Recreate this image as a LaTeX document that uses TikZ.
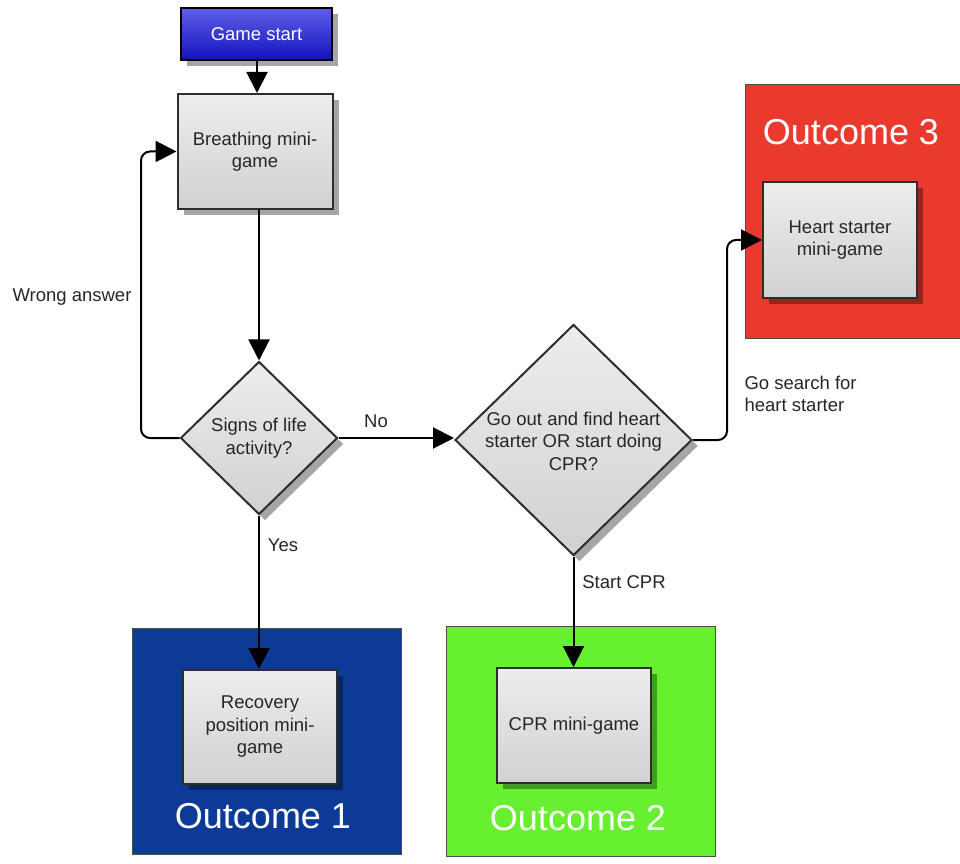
\documentclass[tikz,border=0pt]{standalone}
\usepackage{fontspec}
\setmainfont{Liberation Sans}
\usetikzlibrary{shapes.geometric,arrows.meta,shadows}
\definecolor{outA}{RGB}{12,58,150}
\definecolor{outB}{RGB}{102,240,48}
\definecolor{outC}{RGB}{234,58,46}
\definecolor{boxline}{RGB}{45,45,45}
\tikzset{
  lbl/.style={font=\fontsize{18.5}{22.5}\selectfont, text=black!85, align=center},
  outbox/.style={draw=black!70, line width=0.8pt},
  outtitle/.style={font=\fontsize{36}{40}\selectfont, text=white},
  gamebox/.style={draw=boxline, line width=2pt, top color=black!7, bottom color=black!18,
     drop shadow={shadow xshift=6pt, shadow yshift=-6pt, opacity=0.35, fill=black},
     inner sep=0pt, align=center, font=\fontsize{18.5}{22.5}\selectfont, text=black!85},
  startbox/.style={draw=black, line width=2pt, top color={rgb,255:red,95;green,95;blue,232},
     bottom color={rgb,255:red,18;green,18;blue,190},
     drop shadow={shadow xshift=6pt, shadow yshift=-6pt, opacity=0.35, fill=black},
     inner sep=0pt, font=\fontsize{18.5}{22.5}\selectfont, text=white},
  decision/.style={diamond, draw=boxline, line width=2pt, top color=black!7, bottom color=black!18,
     drop shadow={shadow xshift=6pt, shadow yshift=-6pt, opacity=0.35, fill=black}, inner sep=0pt},
  conn/.style={line width=2pt, -{Triangle[length=21pt,width=21pt]}, rounded corners=9pt}
}
\begin{document}
\begin{tikzpicture}[x=1pt,y=1pt]
\useasboundingbox (0,0) rectangle (960,863);
\fill[white] (0,0) rectangle (960,863);
% outcome areas
\node[outbox, fill=outC, minimum width=215pt, minimum height=254pt] (out3) at (852.5,652) {};
\node[outbox, fill=outB, minimum width=269pt, minimum height=230pt] (out2) at (580.5,122) {};
\node[outbox, fill=outA, minimum width=269pt, minimum height=226pt] (out1) at (266.5,122) {};
\node[outtitle] (t3) at (851,731) {Outcome 3};
\node[outtitle] (t2) at (578,45) {Outcome 2};
\node[outtitle] (t1) at (263,47) {Outcome 1};
% boxes
\node[startbox, minimum width=151pt, minimum height=52pt] (start) at (256.5,829) {Game start};
\node[gamebox, minimum width=155pt, minimum height=115pt] (breath) at (255,711.5) {Breathing mini-\\game};
\node[gamebox, minimum width=154pt, minimum height=116pt] (heart) at (840,623) {Heart starter\\mini-game};
\node[gamebox, minimum width=154pt, minimum height=115pt] (cpr) at (574,137.5) {CPR mini-game};
\node[gamebox, minimum width=154pt, minimum height=114pt] (rec) at (260,136) {Recovery\\position mini-\\game};
% decisions
\node[decision, minimum width=157pt, minimum height=153pt] (d1) at (259,425) {};
\node[lbl] (d1t) at (259,425) {Signs of life\\activity?};
\node[decision, minimum width=237pt, minimum height=231pt] (d2) at (573.5,423) {};
\node[lbl] (d2t) at (573.5,422) {Go out and find heart\\starter OR start doing\\CPR?};
% helper coordinates
\coordinate (loopx) at (141,0);
\coordinate (hx) at (727,0);
% connectors
\draw[conn] (start.south -| 257,0) -- (breath.north -| 257,0);
\draw[conn] (breath.south -| d1.north) -- (d1.north);
\draw[conn] (d1.west) -- (d1.west -| loopx) -- (breath.west -| loopx) -- (breath.west);
\draw[conn] (d1.east) -- (d1.east -| d2.west);
\draw[conn] (d2.east) -- (d2.east -| hx) -- (heart.west -| hx) -- (heart.west);
\draw[conn] (d1.south) -- (d1.south |- rec.north);
\draw[conn] (d2.south) -- (d2.south |- cpr.north);
% labels
\node[lbl] (lwa) at (72,566) {Wrong answer};
\node[lbl] (lno) at (376,442) {No};
\node[lbl, anchor=west, align=left] (lgo) at (741,469) {Go search for\\heart starter};
\node[lbl] (lyes) at (283,318) {Yes};
\node[lbl] (lcpr) at (624,281) {Start CPR};
\end{tikzpicture}
\end{document}
